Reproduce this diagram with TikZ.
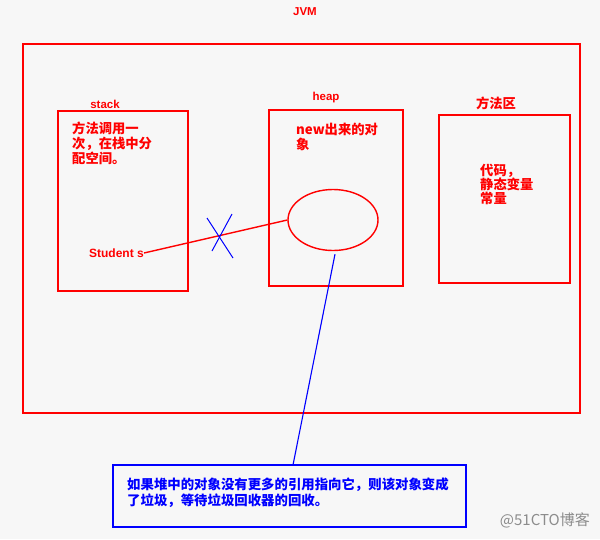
\documentclass[tikz,border=0pt]{standalone}
\usepackage{fontspec}
\setmainfont{Liberation Sans}
\newfontfamily\cjk{Noto Sans CJK SC}
\usetikzlibrary{shapes.geometric,calc}
\begin{document}
\begin{tikzpicture}[x=1pt,y=-1pt,
  redbox/.style={draw=red,line width=1.7pt},
  lbl/.style={text=red,font=\bfseries\fontsize{11.5}{13}\selectfont,inner sep=0pt},
  cjktext/.style={text=red,font=\cjk\bfseries\fontsize{13.3}{14.7}\selectfont,align=left,anchor=north west,inner sep=0pt},
  bluetext/.style={text=blue,font=\cjk\bfseries\fontsize{13.4}{16}\selectfont,align=left,anchor=north west,inner sep=0pt}]
\useasboundingbox[fill=white!97!black] (0,0) rectangle (600,539);
% JVM
\node[lbl] (jvm) at (305,12) {JVM};
\draw[redbox] (23,44) rectangle (580,413);
% stack
\node[lbl] (stacklbl) at (105,104) {stack};
\draw[redbox] (58,111) rectangle (188,291);
\node[cjktext] (stacktxt) at (72,122) {方法调用一\\次，在栈中分\\配空间。};
% heap
\node[lbl] (heaplbl) at (326,98) {heap};
\draw[redbox] (269,110) rectangle (403,286);
\node[cjktext] (heaptxt) at (296,123) {new出来的对\\象};
% method area
\node[text=red,font=\cjk\bfseries\fontsize{13.3}{14}\selectfont,inner sep=0pt] (malbl) at (496,103) {方法区};
\draw[redbox] (439,115) rectangle (570,283);
\node[cjktext,font=\cjk\bfseries\fontsize{13.3}{14}\selectfont] (matxt) at (480,164) {代码，\\静态变量\\常量};
% object ellipse
\node[ellipse,draw=red,line width=1.4pt,minimum width=90pt,minimum height=61pt,inner sep=0pt] (obj) at (333,220) {};
% Student s reference
\node[lbl,anchor=east,font=\bfseries\fontsize{12}{13}\selectfont] (ss) at (144,253) {Student s};
\draw[red,line width=1.4pt] (ss.east) -- (obj.west);
% blue cross
\draw[blue,line width=1pt] (207,218) -- (233,258);
\draw[blue,line width=1pt] (232,214) -- (212,251);
% note
\draw[blue,line width=1.7pt] (113,465) rectangle (466,527);
\node[bluetext] (note) at (127,478) {如果堆中的对象没有更多的引用指向它，则该对象变成\\了垃圾，等待垃圾回收器的回收。};
\coordinate (lstart) at ($(obj.south)+(2,3)$);
\coordinate (lend) at (293,465);
\draw[blue,line width=1.1pt] (lstart) -- (lend);
% watermark
\node[text=black!45,font=\cjk\fontsize{15}{16}\selectfont,inner sep=0pt,anchor=east] (wm) at (590,520) {@51CTO博客};
\end{tikzpicture}
\end{document}
